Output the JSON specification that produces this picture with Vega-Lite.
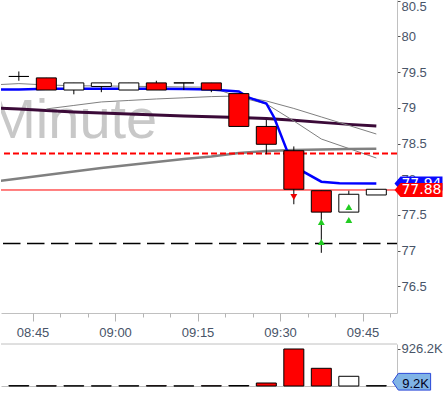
{
  "$schema": "https://vega.github.io/schema/vega-lite/v6.json",
  "padding": 0,
  "background": "#ffffff",
  "bounds": "flush",
  "spacing": 31,
  "config": {"view": {"stroke": null}, "axis": {"grid": false}},
  "datasets": {
    "candles": [
      {"t": "2024-01-02T08:42:30Z", "open": 79.44, "high": 79.51, "low": 79.38, "close": 79.44, "volume": 9800, "dir": "up"},
      {"t": "2024-01-02T08:47:30Z", "open": 79.42, "high": 79.42, "low": 79.25, "close": 79.25, "volume": 4100, "dir": "down"},
      {"t": "2024-01-02T08:52:30Z", "open": 79.25, "high": 79.35, "low": 79.19, "close": 79.35, "volume": 6200, "dir": "up"},
      {"t": "2024-01-02T08:57:30Z", "open": 79.30, "high": 79.35, "low": 79.22, "close": 79.35, "volume": 3500, "dir": "up"},
      {"t": "2024-01-02T09:02:30Z", "open": 79.25, "high": 79.35, "low": 79.25, "close": 79.35, "volume": 5800, "dir": "up"},
      {"t": "2024-01-02T09:07:30Z", "open": 79.35, "high": 79.38, "low": 79.25, "close": 79.25, "volume": 7400, "dir": "down"},
      {"t": "2024-01-02T09:12:30Z", "open": 79.35, "high": 79.35, "low": 79.25, "close": 79.35, "volume": 2900, "dir": "up"},
      {"t": "2024-01-02T09:17:30Z", "open": 79.35, "high": 79.35, "low": 79.22, "close": 79.25, "volume": 6600, "dir": "down"},
      {"t": "2024-01-02T09:22:30Z", "open": 79.20, "high": 79.20, "low": 78.74, "close": 78.74, "volume": 12400, "dir": "down"},
      {"t": "2024-01-02T09:27:30Z", "open": 78.74, "high": 78.83, "low": 78.35, "close": 78.49, "volume": 75000, "dir": "down"},
      {"t": "2024-01-02T09:32:30Z", "open": 78.40, "high": 78.46, "low": 77.65, "close": 77.86, "volume": 926200, "dir": "down"},
      {"t": "2024-01-02T09:37:30Z", "open": 77.84, "high": 77.84, "low": 76.97, "close": 77.54, "volume": 443000, "dir": "down"},
      {"t": "2024-01-02T09:42:30Z", "open": 77.54, "high": 77.84, "low": 77.54, "close": 77.79, "volume": 243000, "dir": "up"},
      {"t": "2024-01-02T09:47:30Z", "open": 77.78, "high": 77.86, "low": 77.78, "close": 77.86, "volume": 9200, "dir": "up"}
    ],
    "blue": [
      {"t": "2024-01-02T08:37:30Z", "v": 79.258},
      {"t": "2024-01-02T08:42:30Z", "v": 79.258},
      {"t": "2024-01-02T08:47:30Z", "v": 79.268},
      {"t": "2024-01-02T08:52:30Z", "v": 79.268},
      {"t": "2024-01-02T08:57:30Z", "v": 79.268},
      {"t": "2024-01-02T09:02:30Z", "v": 79.268},
      {"t": "2024-01-02T09:07:30Z", "v": 79.268},
      {"t": "2024-01-02T09:12:30Z", "v": 79.265},
      {"t": "2024-01-02T09:17:30Z", "v": 79.258},
      {"t": "2024-01-02T09:22:30Z", "v": 79.230},
      {"t": "2024-01-02T09:24:29Z", "v": 79.139},
      {"t": "2024-01-02T09:27:30Z", "v": 79.062},
      {"t": "2024-01-02T09:28:55Z", "v": 78.866},
      {"t": "2024-01-02T09:31:13Z", "v": 78.410},
      {"t": "2024-01-02T09:34:14Z", "v": 78.106},
      {"t": "2024-01-02T09:37:30Z", "v": 77.966},
      {"t": "2024-01-02T09:40:48Z", "v": 77.944},
      {"t": "2024-01-02T09:47:30Z", "v": 77.941}
    ],
    "purple": [
      {"t": "2024-01-02T08:37:30Z", "v": 78.999},
      {"t": "2024-01-02T08:42:30Z", "v": 78.985},
      {"t": "2024-01-02T08:47:30Z", "v": 78.964},
      {"t": "2024-01-02T08:52:30Z", "v": 78.943},
      {"t": "2024-01-02T08:57:30Z", "v": 78.929},
      {"t": "2024-01-02T09:02:30Z", "v": 78.915},
      {"t": "2024-01-02T09:07:30Z", "v": 78.901},
      {"t": "2024-01-02T09:12:30Z", "v": 78.887},
      {"t": "2024-01-02T09:17:30Z", "v": 78.875},
      {"t": "2024-01-02T09:22:30Z", "v": 78.866},
      {"t": "2024-01-02T09:27:30Z", "v": 78.852},
      {"t": "2024-01-02T09:32:30Z", "v": 78.826},
      {"t": "2024-01-02T09:37:30Z", "v": 78.797},
      {"t": "2024-01-02T09:42:30Z", "v": 78.769},
      {"t": "2024-01-02T09:47:30Z", "v": 78.746}
    ],
    "grayThick": [
      {"t": "2024-01-02T08:37:30Z", "v": 77.962},
      {"t": "2024-01-02T08:42:30Z", "v": 78.011},
      {"t": "2024-01-02T08:47:30Z", "v": 78.060},
      {"t": "2024-01-02T08:52:30Z", "v": 78.109},
      {"t": "2024-01-02T08:57:30Z", "v": 78.158},
      {"t": "2024-01-02T09:02:30Z", "v": 78.200},
      {"t": "2024-01-02T09:07:30Z", "v": 78.242},
      {"t": "2024-01-02T09:12:30Z", "v": 78.284},
      {"t": "2024-01-02T09:17:30Z", "v": 78.319},
      {"t": "2024-01-02T09:22:30Z", "v": 78.368},
      {"t": "2024-01-02T09:27:30Z", "v": 78.396},
      {"t": "2024-01-02T09:32:30Z", "v": 78.410},
      {"t": "2024-01-02T09:37:30Z", "v": 78.417},
      {"t": "2024-01-02T09:42:30Z", "v": 78.424},
      {"t": "2024-01-02T09:47:30Z", "v": 78.429}
    ],
    "grayA": [
      {"t": "2024-01-02T08:37:30Z", "v": 79.321},
      {"t": "2024-01-02T08:42:30Z", "v": 79.340},
      {"t": "2024-01-02T08:47:30Z", "v": 79.321},
      {"t": "2024-01-02T08:52:30Z", "v": 79.310},
      {"t": "2024-01-02T08:57:30Z", "v": 79.307},
      {"t": "2024-01-02T09:02:30Z", "v": 79.303},
      {"t": "2024-01-02T09:07:30Z", "v": 79.298},
      {"t": "2024-01-02T09:12:30Z", "v": 79.293},
      {"t": "2024-01-02T09:17:30Z", "v": 79.289},
      {"t": "2024-01-02T09:22:30Z", "v": 79.153},
      {"t": "2024-01-02T09:27:30Z", "v": 79.055},
      {"t": "2024-01-02T09:32:30Z", "v": 78.817},
      {"t": "2024-01-02T09:37:30Z", "v": 78.564},
      {"t": "2024-01-02T09:42:30Z", "v": 78.431},
      {"t": "2024-01-02T09:47:30Z", "v": 78.298}
    ],
    "grayB": [
      {"t": "2024-01-02T08:47:30Z", "v": 78.985},
      {"t": "2024-01-02T08:52:30Z", "v": 79.034},
      {"t": "2024-01-02T08:57:30Z", "v": 79.083},
      {"t": "2024-01-02T09:02:30Z", "v": 79.104},
      {"t": "2024-01-02T09:07:30Z", "v": 79.125},
      {"t": "2024-01-02T09:12:30Z", "v": 79.141},
      {"t": "2024-01-02T09:17:30Z", "v": 79.158},
      {"t": "2024-01-02T09:22:30Z", "v": 79.167},
      {"t": "2024-01-02T09:27:30Z", "v": 79.097},
      {"t": "2024-01-02T09:32:30Z", "v": 78.992},
      {"t": "2024-01-02T09:37:30Z", "v": 78.873},
      {"t": "2024-01-02T09:42:30Z", "v": 78.754},
      {"t": "2024-01-02T09:47:30Z", "v": 78.634}
    ],
    "markers": [
      {"t": "2024-01-02T09:32:30Z", "p": 77.75, "sig": "sell"},
      {"t": "2024-01-02T09:37:30Z", "p": 77.40, "sig": "buy"},
      {"t": "2024-01-02T09:37:30Z", "p": 77.12, "sig": "buy"},
      {"t": "2024-01-02T09:42:30Z", "p": 77.61, "sig": "buy"},
      {"t": "2024-01-02T09:42:30Z", "p": 77.43, "sig": "buy"}
    ]
  },
  "vconcat": [
    {
      "width": 396,
      "height": 313,
      "resolve": {"axis": {"x": "independent"}},
      "layer": [
        {
          "data": {"values": [{"t": "2024-01-02T09:07:40Z", "p": 78.574, "label": "Minute"}]},
          "mark": {"type": "text", "font": "Liberation Sans", "fontSize": 56, "color": "#c8c8c8", "align": "right", "baseline": "alphabetic", "clip": true},
          "encoding": {
            "x": {"field": "t", "type": "temporal", "axis": null, "scale": {"type": "utc", "domain": [1704184810000, 1704189021000]}},
            "y": {"field": "p", "type": "quantitative", "title": null, "scale": {"domain": [76.127, 80.511], "nice": false, "zero": false},
              "axis": {"orient": "right", "title": null, "values": [76.5, 77, 77.5, 78, 78.5, 79, 79.5, 80, 80.5], "tickCount": 30, "labelExpr": "'' + datum.value", "labelOverlap": false, "tickSize": 3, "labelPadding": 1, "domainColor": "#c0c0c0", "tickColor": "#555555", "labelColor": "#485468", "labelFont": "Liberation Sans", "labelFontSize": 13, "labelFlush": true, "grid": false}},
            "text": {"field": "label", "type": "nominal"}
          }
        },
        {
          "data": {"name": "grayThick"},
          "mark": {"type": "line", "color": "#808080", "strokeWidth": 2.5, "clip": true},
          "encoding": {
            "x": {"field": "t", "type": "temporal", "axis": null, "scale": {"type": "utc", "domain": [1704184810000, 1704189021000]}},
            "y": {"field": "v", "type": "quantitative", "title": null, "scale": {"domain": [76.127, 80.511], "nice": false, "zero": false}}
          }
        },
        {
          "data": {"name": "purple"},
          "mark": {"type": "line", "color": "#3b0a38", "strokeWidth": 3, "clip": true},
          "encoding": {
            "x": {"field": "t", "type": "temporal", "axis": null, "scale": {"type": "utc", "domain": [1704184810000, 1704189021000]}},
            "y": {"field": "v", "type": "quantitative", "title": null, "scale": {"domain": [76.127, 80.511], "nice": false, "zero": false}}
          }
        },
        {
          "data": {"name": "grayA"},
          "mark": {"type": "line", "color": "#808080", "strokeWidth": 1, "clip": true},
          "encoding": {
            "x": {"field": "t", "type": "temporal", "axis": null, "scale": {"type": "utc", "domain": [1704184810000, 1704189021000]}},
            "y": {"field": "v", "type": "quantitative", "title": null, "scale": {"domain": [76.127, 80.511], "nice": false, "zero": false}}
          }
        },
        {
          "data": {"name": "grayB"},
          "mark": {"type": "line", "color": "#808080", "strokeWidth": 1, "clip": true},
          "encoding": {
            "x": {"field": "t", "type": "temporal", "axis": null, "scale": {"type": "utc", "domain": [1704184810000, 1704189021000]}},
            "y": {"field": "v", "type": "quantitative", "title": null, "scale": {"domain": [76.127, 80.511], "nice": false, "zero": false}}
          }
        },
        {
          "data": {"name": "blue"},
          "mark": {"type": "line", "color": "#0000ff", "strokeWidth": 2.5, "clip": true},
          "encoding": {
            "x": {"field": "t", "type": "temporal", "axis": null, "scale": {"type": "utc", "domain": [1704184810000, 1704189021000]}},
            "y": {"field": "v", "type": "quantitative", "title": null, "scale": {"domain": [76.127, 80.511], "nice": false, "zero": false}}
          }
        },
        {
          "data": {"values": [{"level": 78.36}]},
          "mark": {"type": "rule", "color": "#ff0000", "strokeWidth": 2, "strokeDash": [6, 3]},
          "encoding": {"y": {"field": "level", "type": "quantitative", "title": null, "scale": {"domain": [76.127, 80.511], "nice": false, "zero": false}}}
        },
        {
          "data": {"values": [{"level": 77.85}]},
          "mark": {"type": "rule", "color": "#ff0000", "strokeWidth": 1},
          "encoding": {"y": {"field": "level", "type": "quantitative", "title": null, "scale": {"domain": [76.127, 80.511], "nice": false, "zero": false}}}
        },
        {
          "data": {"values": [{"level": 77.10}]},
          "mark": {"type": "rule", "color": "#000000", "strokeWidth": 1.5, "strokeDash": [17.5, 6.5], "strokeDashOffset": 7.5},
          "encoding": {"y": {"field": "level", "type": "quantitative", "title": null, "scale": {"domain": [76.127, 80.511], "nice": false, "zero": false}}}
        },
        {
          "data": {"name": "candles"},
          "mark": {"type": "rule", "color": "#000000", "strokeWidth": 1},
          "encoding": {
            "x": {"field": "t", "type": "temporal", "scale": {"type": "utc", "domain": [1704184810000, 1704189021000]},
              "axis": {"orient": "bottom", "title": null, "values": [1704185100000, 1704186000000, 1704186900000, 1704187800000, 1704188700000], "tickCount": 30, "labelExpr": "(utchours(datum.value) < 10 ? '0' : '') + utchours(datum.value) + ':' + (utcminutes(datum.value) < 10 ? '0' : '') + utcminutes(datum.value)", "tickSize": 8, "labelPadding": 5, "domainColor": "#c0c0c0", "tickColor": "#b4b4b4", "labelColor": "#485468", "labelFont": "Liberation Sans", "labelFontSize": 13, "grid": false, "labelFlush": false}},
            "y": {"field": "low", "type": "quantitative", "title": null, "scale": {"domain": [76.127, 80.511], "nice": false, "zero": false}},
            "y2": {"field": "high"}
          }
        },
        {
          "data": {"name": "candles"},
          "mark": {"type": "bar", "size": 20, "stroke": "#000000", "strokeWidth": 1},
          "encoding": {
            "x": {"field": "t", "type": "temporal", "scale": {"type": "utc", "domain": [1704184810000, 1704189021000]},
              "axis": {"orient": "bottom", "title": null, "values": [1704185100000, 1704185400000, 1704185700000, 1704186000000, 1704186300000, 1704186600000, 1704186900000, 1704187200000, 1704187500000, 1704187800000, 1704188100000, 1704188400000, 1704188700000, 1704189000000], "tickCount": 30, "labels": false, "domain": false, "tickSize": 4, "tickColor": "#b4b4b4", "grid": false}},
            "y": {"field": "open", "type": "quantitative", "title": null, "scale": {"domain": [76.127, 80.511], "nice": false, "zero": false}},
            "y2": {"field": "close"},
            "fill": {"field": "dir", "type": "nominal", "scale": {"domain": ["down", "up"], "range": ["#ff0000", "#ffffff"]}, "legend": null}
          }
        },
        {
          "data": {"name": "markers"},
          "mark": {"type": "point", "filled": true, "size": 48, "opacity": 1},
          "encoding": {
            "x": {"field": "t", "type": "temporal", "axis": null, "scale": {"type": "utc", "domain": [1704184810000, 1704189021000]}},
            "y": {"field": "p", "type": "quantitative", "title": null, "scale": {"domain": [76.127, 80.511], "nice": false, "zero": false}},
            "shape": {"field": "sig", "type": "nominal", "scale": {"domain": ["buy", "sell"], "range": ["triangle-up", "triangle-down"]}, "legend": null},
            "color": {"field": "sig", "type": "nominal", "scale": {"domain": ["buy", "sell"], "range": ["#22cc22", "#ee0000"]}, "legend": null}
          }
        },
        {
          "data": {"values": [{"t": "2024-01-02T09:55:10Z", "p": 77.94, "label": "77.94"}]},
          "mark": {"type": "point", "shape": "M -1 0 L -0.75 -0.29 L 1 -0.29 L 1 0.29 L -0.75 0.29 Z", "size": 2304, "filled": true, "fill": "#0a0aff", "opacity": 1},
          "encoding": {
            "x": {"field": "t", "type": "temporal", "axis": null, "scale": {"type": "utc", "domain": [1704184810000, 1704189021000]}},
            "y": {"field": "p", "type": "quantitative", "title": null, "scale": {"domain": [76.127, 80.511], "nice": false, "zero": false}}
          }
        },
        {
          "data": {"values": [{"t": "2024-01-02T09:55:10Z", "p": 77.94, "label": "77.94"}]},
          "mark": {"type": "text", "font": "DejaVu Sans", "fontSize": 14, "color": "#ffffff", "align": "center", "baseline": "middle", "dx": 3},
          "encoding": {
            "x": {"field": "t", "type": "temporal", "axis": null, "scale": {"type": "utc", "domain": [1704184810000, 1704189021000]}},
            "y": {"field": "p", "type": "quantitative", "title": null, "scale": {"domain": [76.127, 80.511], "nice": false, "zero": false}},
            "text": {"field": "label", "type": "nominal"}
          }
        },
        {
          "data": {"values": [{"t": "2024-01-02T09:55:10Z", "p": 77.85, "label": "77.88"}]},
          "mark": {"type": "point", "shape": "M -1 0 L -0.75 -0.29 L 1 -0.29 L 1 0.29 L -0.75 0.29 Z", "size": 2304, "filled": true, "fill": "#ff0000", "opacity": 1},
          "encoding": {
            "x": {"field": "t", "type": "temporal", "axis": null, "scale": {"type": "utc", "domain": [1704184810000, 1704189021000]}},
            "y": {"field": "p", "type": "quantitative", "title": null, "scale": {"domain": [76.127, 80.511], "nice": false, "zero": false}}
          }
        },
        {
          "data": {"values": [{"t": "2024-01-02T09:55:10Z", "p": 77.85, "label": "77.88"}]},
          "mark": {"type": "text", "font": "DejaVu Sans", "fontSize": 14, "color": "#ffffff", "align": "center", "baseline": "middle", "dx": 3},
          "encoding": {
            "x": {"field": "t", "type": "temporal", "axis": null, "scale": {"type": "utc", "domain": [1704184810000, 1704189021000]}},
            "y": {"field": "p", "type": "quantitative", "title": null, "scale": {"domain": [76.127, 80.511], "nice": false, "zero": false}},
            "text": {"field": "label", "type": "nominal"}
          }
        }
      ]
    },
    {
      "width": 396,
      "height": 42,
      "layer": [
        {
          "data": {"values": [{"level": 1051000}]},
          "mark": {"type": "rule", "color": "#c0c0c0", "strokeWidth": 1},
          "encoding": {"y": {"field": "level", "type": "quantitative", "title": null, "scale": {"domain": [0, 1051000], "nice": false}}}
        },
        {
          "data": {"name": "candles"},
          "mark": {"type": "bar", "size": 20, "stroke": "#000000", "strokeWidth": 1},
          "encoding": {
            "x": {"field": "t", "type": "temporal", "title": null, "scale": {"type": "utc", "domain": [1704184810000, 1704189021000]},
              "axis": {"orient": "bottom", "title": null, "ticks": false, "labels": false, "domainColor": "#c0c0c0", "grid": false}},
            "y": {"field": "volume", "type": "quantitative", "title": null, "scale": {"domain": [0, 1051000], "nice": false},
              "axis": {"orient": "right", "title": null, "values": [926200], "tickCount": 10, "labelExpr": "round(datum.value / 100) / 10 + 'K'", "tickSize": 3, "labelPadding": 1, "domainColor": "#c0c0c0", "tickColor": "#555555", "labelColor": "#485468", "labelFont": "Liberation Sans", "labelFontSize": 13, "grid": false}},
            "fill": {"field": "dir", "type": "nominal", "scale": {"domain": ["down", "up"], "range": ["#ff0000", "#ffffff"]}, "legend": null}
          }
        },
        {
          "data": {"values": [{"t": "2024-01-02T09:53:55Z", "v": 9200, "label": "9.2K"}]},
          "mark": {"type": "point", "shape": "M -1 -0.205 L -0.7 -0.645 L 1 -0.645 L 1 0.235 L -0.7 0.235 Z", "size": 1444, "filled": true, "fill": "#80b4e6", "stroke": "#2a48d8", "strokeWidth": 1, "opacity": 1},
          "encoding": {
            "x": {"field": "t", "type": "temporal", "title": null, "scale": {"type": "utc", "domain": [1704184810000, 1704189021000]}},
            "y": {"field": "v", "type": "quantitative", "title": null, "scale": {"domain": [0, 1051000], "nice": false}}
          }
        },
        {
          "data": {"values": [{"t": "2024-01-02T09:53:55Z", "v": 9200, "label": "9.2K"}]},
          "mark": {"type": "text", "font": "Liberation Sans", "fontSize": 13, "color": "#000022", "align": "center", "baseline": "middle", "dx": 4, "dy": -2},
          "encoding": {
            "x": {"field": "t", "type": "temporal", "title": null, "scale": {"type": "utc", "domain": [1704184810000, 1704189021000]}},
            "y": {"field": "v", "type": "quantitative", "title": null, "scale": {"domain": [0, 1051000], "nice": false}},
            "text": {"field": "label", "type": "nominal"}
          }
        }
      ]
    }
  ]
}
